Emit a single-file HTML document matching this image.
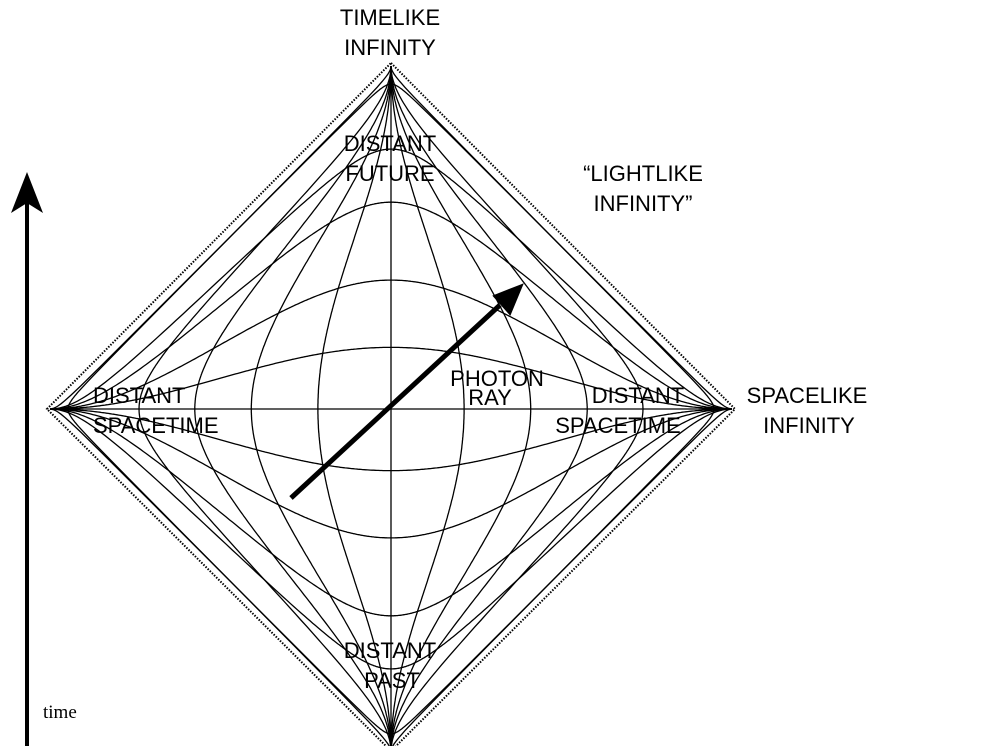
<!DOCTYPE html>
<html><head><meta charset="utf-8"><style>
body{margin:0;background:#fff}
svg{display:block}
text{font-family:"Liberation Sans",sans-serif;font-size:22px;fill:#000}
</style></head><body>
<svg id="s" width="981" height="746" viewBox="0 0 981 746" xmlns="http://www.w3.org/2000/svg">
<g id="g" fill="none" stroke="#000" stroke-width="1.3"></g>
<g stroke="#000" stroke-width="2" stroke-dasharray="1.5,1.5" fill="none">
<path d="M391,63 L735,409 L391,751 L47,409 Z"/>
</g>
<line x1="50" y1="409" x2="732" y2="409" stroke="#000" stroke-width="1.3"/>
<line x1="391" y1="66" x2="391" y2="746" stroke="#000" stroke-width="1.3"/>
<line x1="291" y1="498" x2="500" y2="305" stroke="#000" stroke-width="5"/>
<polygon points="522,285 494,296 510,314" fill="#000" stroke="#000" stroke-width="2"/>
<line x1="27" y1="746" x2="27" y2="200" stroke="#000" stroke-width="4"/>
<polygon points="27,172 11,213 27,203 43,213" fill="#000"/>
<text x="390" y="25" text-anchor="middle">TIMELIKE</text>
<text x="390" y="55" text-anchor="middle">INFINITY</text>
<text x="390" y="151" text-anchor="middle">DISTANT</text>
<text x="390" y="181" text-anchor="middle">FUTURE</text>
<text x="643" y="181" text-anchor="middle">“LIGHTLIKE</text>
<text x="643" y="211" text-anchor="middle">INFINITY”</text>
<text x="497" y="386" text-anchor="middle">PHOTON</text>
<text x="490" y="405" text-anchor="middle">RAY</text>
<text x="93" y="403">DISTANT</text>
<text x="93" y="433">SPACETIME</text>
<text x="638" y="403" text-anchor="middle">DISTANT</text>
<text x="618" y="433" text-anchor="middle">SPACETIME</text>
<text x="807" y="403" text-anchor="middle">SPACELIKE</text>
<text x="809" y="433" text-anchor="middle">INFINITY</text>
<text x="390" y="658" text-anchor="middle">DISTANT</text>
<text x="392" y="688" text-anchor="middle">PAST</text>
<text x="43" y="718" style="font-family:'Liberation Serif',serif;font-size:19px">time</text>
</svg>
<script>
(function(){
var g=document.getElementById('g'),P=Math.PI;
function pt(t,x){var U=Math.atan(t-x),V=Math.atan(t+x);var T=U+V,X=V-U;return [391+X/P*341,409-T/P*343];}
function add(d){var p=document.createElementNS('http://www.w3.org/2000/svg','path');p.setAttribute('d',d);g.appendChild(p);}
var ts=[0.29,0.67,1.39,2.5,12],xs=[0.35,0.75,1.27,2.3,12];
ts.forEach(function(t0){[t0,-t0].forEach(function(t){var d='';for(var i=1;i<400;i++){var th=-P/2+P*i/400;var q=pt(t,Math.tan(th));d+=(i==1?'M':'L')+q[0].toFixed(1)+','+q[1].toFixed(1);}
var a=pt(t,-1e9),b=pt(t,1e9);add('M'+a[0]+','+a[1]+d.replace('M','L')+'L'+b[0]+','+b[1]);});});
xs.forEach(function(x0){[x0,-x0].forEach(function(x){var d='';for(var i=1;i<400;i++){var th=-P/2+P*i/400;var q=pt(Math.tan(th),x);d+=(i==1?'M':'L')+q[0].toFixed(1)+','+q[1].toFixed(1);}
add('M391,746'+d.replace('M','L')+'L391,66');});});
})();
</script>
</body></html>
